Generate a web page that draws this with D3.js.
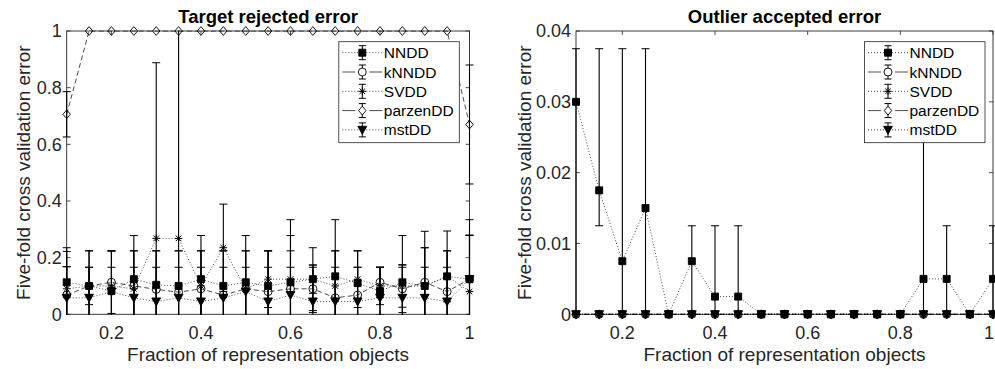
<!DOCTYPE html>
<html><head><meta charset="utf-8">
<script src="https://cdn.jsdelivr.net/npm/d3@7"></script>
<style>body{margin:0;background:#fff}svg{display:block}</style>
</head><body>
<svg id="c" width="995" height="369"></svg>
<script>
// ---------- data ----------
const fractions = [0.1,0.15,0.2,0.25,0.3,0.35,0.4,0.45,0.5,0.55,0.6,0.65,0.7,0.75,0.8,0.85,0.9,0.95,1];
const seriesNames = ["NNDD","kNNDD","SVDD","parzenDD","mstDD"];

// Target rejected error (mean and std)
const trNNDD     = [0.113,0.10,0.082,0.124,0.104,0.10,0.124,0.10,0.113,0.10,0.113,0.124,0.134,0.11,0.082,0.113,0.10,0.134,0.124];
const trNNDDStd  = [0.122,0.124,0.142,0.154,0.12,0.124,0.154,0.124,0.165,0.124,0.165,0.111,0.2,0.114,0.084,0.165,0.135,0.16,0.21];
const trKNNDD    = [0.068,0.10,0.113,0.10,0.088,0.078,0.09,0.068,0.09,0.08,0.09,0.09,0.058,0.068,0.113,0.09,0.113,0.08,0.124];
const trKNNDDStd = [0.1,0.066,0.11,0.124,0.136,0.146,0.134,0.156,0.134,0.144,0.134,0.084,0.166,0.098,0.053,0.084,0.18,0.144,0.154];
const trSVDD     = [0.09,0.10,0.10,0.09,0.268,0.268,0.10,0.235,0.09,0.124,0.124,0.124,0.10,0.124,0.10,0.10,0.10,0.134,0.08];
const trSVDDStd  = [0.132,0.124,0.124,0.134,0.62,0.78,0.124,0.154,0.134,0.1,0.21,0.05,0.124,0.1,0.066,0.075,0.135,0.09,0.2];
const trParzen   = [0.706,1,1,1,1,1,1,1,1,1,1,1,1,1,1,1,1,1,0.67];
const trParzenStd= [0.08,0,0,0,0,0,0,0,0,0,0,0,0,0,0,0,0,0,0.21];
const trMst      = [0.058,0.058,0.08,0.058,0.045,0.058,0.045,0.058,0.08,0.045,0.068,0.045,0.045,0.045,0.058,0.058,0.058,0.045,0.124];
const trMstStd   = [0.11,0.108,0.086,0.108,0.121,0.108,0.121,0.108,0.086,0.121,0.098,0.121,0.121,0.121,0.108,0.108,0.108,0.121,0.154];

// Outlier accepted error (mean, bar low end, bar high end)
const oaNNDD     = [0.03,0.0175,0.0075,0.015,0,0.0075,0.0025,0.0025,0,0,0,0,0,0,0,0.005,0.005,0,0.005];
const oaNNDDLow  = [0,0.0125,0,0,0,0,0,0,0,0,0,0,0,0,0,0,0,0,0];
const oaNNDDHigh = [0.0375,0.0375,0.0375,0.0375,0,0.0125,0.0125,0.0125,0,0,0,0,0,0,0,0.0375,0.0125,0,0.0125];
const oaKNNDD    = [0,0,0,0,0,0,0,0,0,0,0,0,0,0,0,0,0,0,0];
const oaSVDD     = [0,0,0,0,0,0,0,0,0,0,0,0,0,0,0,0,0,0,0];
const oaParzen   = [0,0,0,0,0,0,0,0,0,0,0,0,0,0,0,0,0,0,0];
const oaMst      = [0,0,0,0,0,0,0,0,0,0,0,0,0,0,0,0,0,0,0];

const xTicks = [0.2,0.4,0.6,0.8,1];
const xTickLabels = ["0.2","0.4","0.6","0.8","1"];
const trYTicks = [0,0.2,0.4,0.6,0.8,1];
const trYTickLabels = ["0","0.2","0.4","0.6","0.8","1"];
const oaYTicks = [0,0.01,0.02,0.03,0.04];
const oaYTickLabels = ["0","0.01","0.02","0.03","0.04"];

const titles = ["Target rejected error","Outlier accepted error"];
const xLabel = "Fraction of representation objects";
const yLabel = "Five-fold cross validation error";

// ---------- styles ----------
const FONT = "'Liberation Sans', Arial, Helvetica, sans-serif";
const AX = "#262626";
const styles = [
  {marker:"square", dash:"1,2"},
  {marker:"circle", dash:"5,3"},
  {marker:"star",   dash:"1,2"},
  {marker:"diamond",dash:"5,3"},
  {marker:"tri",    dash:"1,2"}
];

function markerPath(type){
  switch(type){
    case "square": return "M-3.5,-3.5H3.5V3.5H-3.5Z";
    case "circle": return "M4,0A4,4 0 1,1 -4,0A4,4 0 1,1 4,0Z";
    case "star":   return "M0,-3.8V3.8M-3.8,0H3.8M-2.8,-2.8L2.8,2.8M-2.8,2.8L2.8,-2.8";
    case "diamond":return "M0,-4.4L3.7,0L0,4.4L-3.7,0Z";
    case "tri":    return "M-4.4,-3.6L4.4,-3.6L0,4.4Z";
  }
}
function markerAttrs(sel,type){
  const filled = (type==="square"||type==="tri");
  sel.attr("d",markerPath(type))
     .attr("fill", filled ? "#000" : "none")
     .attr("stroke","#000")
     .attr("stroke-width", type==="star" ? 1 : 0.9);
}

const svg = d3.select("#c");

function panel(cfg){
  const x = d3.scaleLinear().domain([0.1,1]).range([cfg.x0,cfg.x1]);
  const y = d3.scaleLinear().domain([0,cfg.yMax]).range([cfg.y1,cfg.y0]);
  const g = svg.append("g");
  const clipId = "clip"+cfg.id;
  svg.append("defs").append("clipPath").attr("id",clipId)
    .append("rect").attr("x",cfg.x0-12).attr("y",cfg.y0-0.5)
    .attr("width",cfg.x1-cfg.x0+24).attr("height",cfg.y1-cfg.y0+1);

  // axes box
  g.append("rect").attr("x",cfg.x0).attr("y",cfg.y0).attr("width",cfg.x1-cfg.x0).attr("height",cfg.y1-cfg.y0)
    .attr("fill","#fff").attr("stroke",AX).attr("stroke-width",0.9);
  const tl = 4;
  xTicks.forEach(t=>{
    g.append("line").attr("x1",x(t)).attr("x2",x(t)).attr("y1",cfg.y1).attr("y2",cfg.y1-tl).attr("stroke",AX).attr("stroke-width",0.8);
    g.append("line").attr("x1",x(t)).attr("x2",x(t)).attr("y1",cfg.y0).attr("y2",cfg.y0+tl).attr("stroke",AX).attr("stroke-width",0.8);
  });
  cfg.yTicks.forEach(t=>{
    g.append("line").attr("x1",cfg.x0).attr("x2",cfg.x0+tl).attr("y1",y(t)).attr("y2",y(t)).attr("stroke",AX).attr("stroke-width",0.8);
    g.append("line").attr("x1",cfg.x1).attr("x2",cfg.x1-tl).attr("y1",y(t)).attr("y2",y(t)).attr("stroke",AX).attr("stroke-width",0.8);
  });
  // tick labels (keep last label inside the page)
  g.selectAll(".xt").data(xTicks).enter().append("text")
    .attr("x",d=>Math.min(x(d), 989)).attr("y",cfg.y1+25).attr("text-anchor","middle")
    .attr("font-family",FONT).attr("font-size",18).attr("fill",AX)
    .text((d,i)=>xTickLabels[i]);
  g.selectAll(".yt").data(cfg.yTicks).enter().append("text")
    .attr("x",cfg.x0-5).attr("y",d=>y(d)+6.3).attr("text-anchor","end")
    .attr("font-family",FONT).attr("font-size",18).attr("fill",AX)
    .text((d,i)=>cfg.yTickLabels[i]);
  g.append("text").attr("x",(cfg.x0+cfg.x1)/2).attr("y",361).attr("text-anchor","middle")
    .attr("font-family",FONT).attr("font-size",19).attr("fill",AX).text(xLabel);
  g.append("text").attr("transform",`translate(${cfg.ylx},${(cfg.y0+cfg.y1)/2}) rotate(-90)`)
    .attr("text-anchor","middle").attr("font-family",FONT).attr("font-size",19).attr("fill",AX).text(yLabel);
  g.append("text").attr("x",(cfg.x0+cfg.x1)/2).attr("y",23).attr("text-anchor","middle")
    .attr("font-family",FONT).attr("font-size",18.5).attr("font-weight","bold").attr("fill","#000").text(cfg.title);

  const line = d3.line().x((d,i)=>x(fractions[i])).y(d=>y(d));
  cfg.series.forEach((s,si)=>{
    const st = styles[si];
    const cg = g.append("g").attr("clip-path",`url(#${clipId})`);
    s.values.forEach((v,i)=>{
      const lo = s.lo[i], hi = s.hi[i];
      if (hi - lo <= 0) return;
      const xi = x(fractions[i]);
      cg.append("line").attr("x1",xi).attr("x2",xi).attr("y1",y(lo)).attr("y2",y(hi)).attr("stroke","#000").attr("stroke-width",1.1);
      [lo,hi].forEach(e=>{
        cg.append("line").attr("x1",xi-4).attr("x2",xi+4).attr("y1",y(e)).attr("y2",y(e)).attr("stroke","#000").attr("stroke-width",1);
      });
    });
    cg.append("path").attr("d",line(s.values)).attr("fill","none").attr("stroke","#000")
      .attr("stroke-width",0.7).attr("stroke-dasharray",st.dash);
    const mg = g.append("g");
    s.values.forEach((v,i)=>{
      mg.append("path").attr("transform",`translate(${x(fractions[i])},${y(v)})`).call(markerAttrs,st.marker);
    });
  });

  // legend
  const lw = 120.5, lh = 101;
  const lx = cfg.x1 - cfg.legRight - lw, ly = cfg.y0 + 10.7;
  const lg = g.append("g");
  lg.append("rect").attr("x",lx).attr("y",ly).attr("width",lw).attr("height",lh)
    .attr("fill","#fff").attr("stroke",AX).attr("stroke-width",0.8);
  seriesNames.forEach((n,i)=>{
    const st = styles[i];
    const ry = ly + 11 + i*19.3;
    const mx = lx + 23.5;
    lg.append("line").attr("x1",lx+3.5).attr("x2",lx+43.5).attr("y1",ry).attr("y2",ry)
      .attr("stroke","#000").attr("stroke-width",0.7).attr("stroke-dasharray",st.dash==="1,2"?"1,2":"13,14");
    lg.append("line").attr("x1",mx).attr("x2",mx).attr("y1",ry-7).attr("y2",ry+7).attr("stroke","#000").attr("stroke-width",1);
    [ry-7,ry+7].forEach(e=>lg.append("line").attr("x1",mx-3.5).attr("x2",mx+3.5).attr("y1",e).attr("y2",e).attr("stroke","#000").attr("stroke-width",1));
    lg.append("path").attr("transform",`translate(${mx},${ry})`).call(markerAttrs,st.marker)
      .attr("fill", (st.marker==="square"||st.marker==="tri") ? "#000" : (st.marker==="star"?"none":"#fff"));
    lg.append("text").attr("x",lx+45).attr("y",ry+5.5).attr("font-family",FONT).attr("font-size",15.5)
      .attr("fill","#000").text(n);
  });
}

function sym(vals,std,sign){ return vals.map((v,i)=>v+sign*std[i]); }

panel({id:"L", x0:66.7, x1:469.5, y0:31, y1:314.3, yMax:1, yTicks:trYTicks, yTickLabels:trYTickLabels,
  title:titles[0], ylx:30, legRight:10.2,
  series:[
    {values:trNNDD, lo:sym(trNNDD,trNNDDStd,-1), hi:sym(trNNDD,trNNDDStd,1)},
    {values:trKNNDD, lo:sym(trKNNDD,trKNNDDStd,-1), hi:sym(trKNNDD,trKNNDDStd,1)},
    {values:trSVDD, lo:sym(trSVDD,trSVDDStd,-1), hi:sym(trSVDD,trSVDDStd,1)},
    {values:trParzen, lo:sym(trParzen,trParzenStd,-1), hi:sym(trParzen,trParzenStd,1)},
    {values:trMst, lo:sym(trMst,trMstStd,-1), hi:sym(trMst,trMstStd,1)}
  ]});

panel({id:"R", x0:576, x1:993, y0:31, y1:314.3, yMax:0.04, yTicks:oaYTicks, yTickLabels:oaYTickLabels,
  title:titles[1], ylx:531, legRight:8,
  series:[
    {values:oaNNDD, lo:oaNNDDLow, hi:oaNNDDHigh},
    {values:oaKNNDD, lo:oaKNNDD, hi:oaKNNDD},
    {values:oaSVDD, lo:oaSVDD, hi:oaSVDD},
    {values:oaParzen, lo:oaParzen, hi:oaParzen},
    {values:oaMst, lo:oaMst, hi:oaMst}
  ]});
</script>
</body></html>
